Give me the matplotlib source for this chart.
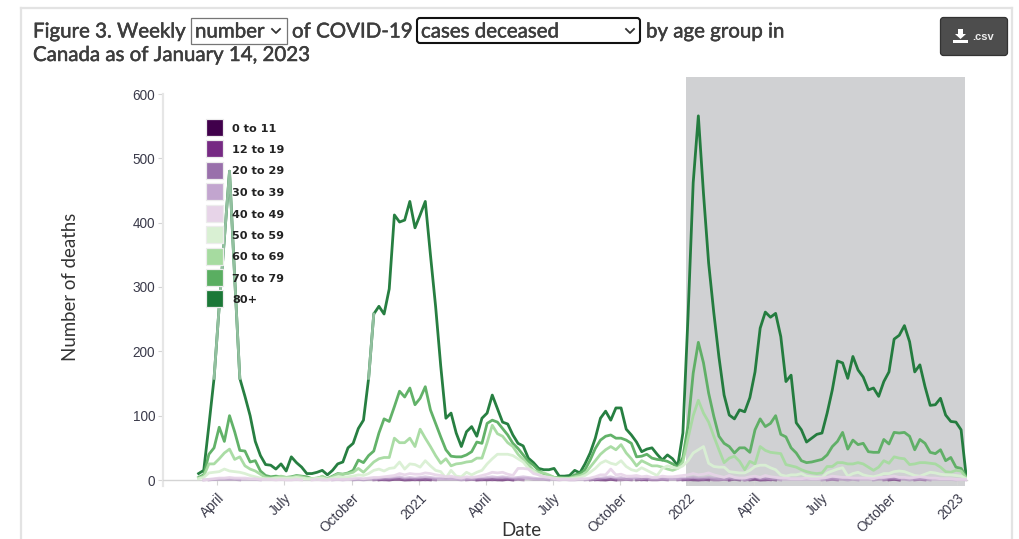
import matplotlib
matplotlib.use("Agg")
import matplotlib.pyplot as plt
import matplotlib.dates as mdates
import matplotlib.patheffects as pe
from matplotlib.patches import FancyBboxPatch, Rectangle, Polygon
import numpy as np
import pandas as pd

# WEEKLY DEATHS BY AGE GROUP
age_groups = ["0 to 11", "12 to 19", "20 to 29", "30 to 39", "40 to 49", "50 to 59", "60 to 69", "70 to 79", "80+"]
colors = ["#40004b", "#762a83", "#9970ab", "#c2a5cf", "#e7d4e8", "#d9f0d3", "#a6dba0", "#5aae61", "#1b7837"]

weeks = pd.date_range("2020-03-07", "2023-01-14", freq="7D")

d80 = [10, 15, 85, 158, 270, 375, 480, 315, 158, 130, 100, 60, 38, 24, 23, 17, 25, 14, 36, 27,
       20, 10, 10, 12, 15, 8, 15, 25, 28, 50, 57, 80, 93, 158, 258, 270, 258, 297, 412, 401,
       404, 433, 392, 412, 433, 350, 270, 177, 96, 104, 73, 52, 75, 83, 68, 96, 104, 132, 111, 90,
       87, 70, 57, 53, 34, 27, 18, 16, 16, 18, 6, 6, 7, 15, 11, 25, 42, 65, 96, 107,
       93, 112, 112, 79, 70, 59, 44, 48, 50, 40, 31, 39, 33, 22, 73, 255, 462, 566, 445, 337,
       260, 191, 132, 101, 95, 109, 106, 128, 168, 236, 261, 253, 259, 223, 153, 163, 89, 78, 59, 65,
       71, 73, 104, 140, 185, 182, 158, 192, 171, 160, 140, 143, 130, 153, 168, 219, 225, 240, 215, 168,
       179, 145, 116, 117, 127, 101, 91, 90, 78, 5]
d70 = [4, 8, 40, 50, 82, 60, 100, 75, 46, 45, 28, 30, 14, 7, 5, 6, 5, 4, 5, 7,
       6, 5, 2, 3, 5, 2, 6, 10, 9, 11, 15, 31, 27, 38, 45, 73, 95, 91, 114, 138,
       129, 143, 117, 127, 145, 109, 88, 67, 47, 37, 36, 36, 39, 44, 59, 57, 88, 93, 90, 80,
       70, 57, 49, 39, 29, 23, 15, 9, 7, 4, 4, 3, 3, 8, 10, 16, 31, 49, 62, 68,
       70, 65, 65, 62, 57, 36, 37, 40, 34, 32, 31, 29, 25, 20, 35, 85, 166, 214, 182, 135,
       99, 68, 57, 52, 42, 50, 50, 43, 78, 95, 83, 88, 100, 71, 67, 50, 42, 30, 27, 28,
       30, 32, 39, 52, 60, 74, 48, 62, 55, 57, 44, 43, 43, 63, 56, 74, 73, 74, 68, 47,
       63, 57, 43, 41, 47, 30, 35, 20, 18, 5]
d60 = [3, 6, 25, 25, 33, 42, 48, 32, 36, 22, 17, 14, 9, 4, 3, 4, 6, 4, 4, 6,
       5, 3, 2, 2, 6, 2, 5, 9, 9, 10, 12, 18, 12, 20, 28, 33, 35, 35, 65, 58,
       58, 65, 52, 79, 65, 52, 38, 26, 33, 22, 25, 26, 28, 29, 34, 34, 58, 85, 72, 68,
       58, 52, 40, 32, 24, 15, 12, 11, 8, 4, 3, 3, 3, 5, 7, 10, 20, 30, 40, 47,
       52, 47, 55, 42, 33, 22, 30, 26, 22, 22, 20, 17, 15, 18, 28, 65, 100, 124, 104, 90,
       68, 47, 27, 34, 37, 29, 16, 29, 25, 52, 46, 43, 42, 41, 24, 22, 20, 16, 13, 11,
       10, 11, 21, 21, 27, 27, 25, 25, 27, 25, 20, 15, 20, 30, 26, 36, 34, 33, 24, 25,
       27, 27, 26, 25, 20, 13, 12, 15, 14, 3]
d50 = [2, 4, 11, 12, 13, 17, 14, 13, 12, 10, 7, 5, 3, 2, 2, 3, 3, 3, 3, 4,
       3, 2, 2, 3, 3, 1, 3, 5, 4, 5, 6, 8, 7, 10, 15, 17, 14, 18, 19, 28,
       17, 25, 24, 20, 30, 22, 15, 13, 3, 15, 6, 5, 12, 8, 12, 15, 25, 33, 40, 40,
       40, 38, 33, 28, 18, 14, 8, 6, 4, 3, 2, 2, 2, 3, 4, 7, 12, 18, 26, 30,
       26, 24, 30, 21, 16, 14, 19, 15, 11, 7, 18, 22, 20, 18, 22, 30, 42, 47, 52, 26,
       21, 20, 20, 13, 12, 11, 11, 15, 21, 23, 23, 19, 16, 8, 6, 8, 8, 10, 6, 5,
       4, 4, 11, 14, 17, 19, 6, 10, 12, 8, 6, 5, 7, 10, 10, 13, 14, 13, 10, 7,
       6, 9, 12, 11, 9, 8, 8, 7, 6, 2]
d40 = [0, 0, 1, 2, 3, 3, 4, 3, 3, 3, 2, 2, 1, 1, 1, 0, 1, 0, 0, 1,
       0, 0, 0, 1, 0, 0, 1, 1, 1, 1, 2, 3, 2, 3, 4, 4, 5, 6, 7, 10,
       8, 10, 9, 9, 11, 10, 8, 7, 5, 6, 4, 3, 5, 4, 5, 7, 9, 12, 11, 12,
       9, 7, 18, 18, 17, 10, 8, 5, 4, 2, 1, 1, 1, 1, 2, 2, 3, 5, 8, 8,
       17, 8, 9, 6, 6, 7, 5, 6, 4, 4, 6, 5, 5, 6, 7, 8, 10, 8, 9, 11,
       8, 6, 4, 7, 4, 3, 3, 5, 6, 4, 7, 5, 4, 3, 3, 2, 2, 2, 3, 2,
       2, 3, 4, 6, 5, 4, 4, 3, 3, 3, 3, 2, 4, 4, 5, 6, 4, 4, 3, 4,
       5, 4, 3, 3, 2, 2, 2, 1, 1, 1]
d30 = [0, 0, 1, 1, 2, 2, 2, 2, 1, 1, 1, 1, 0, 0, 0, 0, 0, 0, 0, 0,
       0, 0, 0, 0, 0, 0, 0, 1, 0, 1, 1, 1, 1, 2, 2, 2, 3, 3, 4, 5,
       3, 4, 3, 4, 5, 4, 3, 3, 2, 3, 2, 1, 2, 2, 3, 3, 4, 5, 4, 5,
       4, 3, 4, 5, 4, 3, 2, 2, 1, 1, 0, 1, 0, 0, 1, 1, 1, 2, 3, 4,
       5, 3, 4, 2, 3, 3, 2, 3, 2, 2, 3, 2, 2, 2, 3, 3, 4, 3, 3, 4,
       3, 2, 2, 3, 2, 2, 1, 2, 5, 2, 3, 2, 2, 1, 1, 1, 1, 1, 1, 1,
       1, 1, 2, 3, 2, 2, 1, 2, 1, 1, 1, 1, 2, 2, 3, 3, 2, 2, 1, 2,
       2, 2, 1, 1, 1, 1, 1, 0, 1, 0]
d20 = [0, 0, 0, 1, 1, 1, 1, 1, 0, 0, 0, 0, 0, 0, 0, 0, 0, 0, 0, 0,
       0, 0, 0, 0, 0, 0, 0, 0, 0, 0, 0, 1, 0, 1, 1, 1, 1, 1, 2, 3,
       1, 2, 1, 2, 2, 2, 1, 1, 1, 1, 1, 0, 1, 1, 1, 1, 2, 2, 2, 3,
       2, 1, 2, 2, 2, 1, 1, 1, 0, 0, 0, 0, 0, 0, 0, 0, 1, 1, 1, 2,
       2, 1, 2, 1, 1, 1, 1, 1, 1, 1, 1, 1, 1, 1, 1, 1, 2, 1, 1, 2,
       1, 1, 1, 1, 1, 1, 0, 1, 3, 1, 1, 1, 1, 0, 0, 0, 0, 0, 0, 0,
       0, 0, 1, 1, 1, 1, 0, 1, 0, 0, 0, 0, 1, 1, 1, 2, 1, 1, 0, 1,
       1, 1, 0, 0, 0, 0, 0, 0, 0, 0]
d12 = [0, 0, 0, 0, 0, 0, 0, 0, 0, 0, 0, 0, 0, 0, 0, 0, 0, 0, 0, 0,
       0, 0, 0, 0, 0, 0, 0, 0, 0, 0, 0, 0, 0, 0, 0, 1, 0, 0, 1, 1,
       0, 1, 0, 1, 0, 1, 0, 0, 0, 0, 0, 0, 0, 1, 0, 0, 1, 0, 1, 0,
       1, 0, 1, 0, 0, 0, 0, 0, 0, 0, 0, 0, 0, 0, 0, 0, 0, 0, 1, 0,
       1, 0, 0, 1, 0, 0, 0, 1, 0, 0, 1, 0, 0, 0, 1, 0, 1, 0, 0, 1,
       0, 0, 1, 0, 0, 0, 0, 1, 1, 0, 1, 0, 0, 0, 0, 0, 0, 0, 0, 0,
       0, 0, 0, 1, 0, 0, 0, 0, 0, 0, 0, 0, 0, 0, 1, 1, 0, 0, 0, 0,
       1, 0, 0, 0, 0, 0, 0, 0, 0, 0]
d0 = [0, 0, 0, 0, 0, 0, 0, 0, 0, 0, 0, 0, 0, 0, 0, 0, 0, 0, 0, 0,
      0, 0, 0, 0, 0, 0, 0, 0, 0, 0, 0, 0, 0, 0, 0, 0, 1, 0, 1, 1,
      0, 0, 1, 0, 1, 0, 0, 0, 0, 0, 0, 0, 0, 0, 0, 1, 0, 1, 0, 0,
      1, 0, 0, 0, 0, 0, 0, 0, 0, 0, 0, 0, 0, 0, 0, 0, 0, 1, 0, 0,
      1, 0, 0, 0, 0, 0, 1, 0, 0, 0, 0, 0, 0, 0, 0, 1, 0, 0, 1, 0,
      0, 0, 0, 0, 1, 0, 0, 0, 1, 0, 0, 1, 0, 0, 0, 0, 0, 0, 0, 0,
      0, 0, 0, 0, 0, 0, 0, 0, 0, 0, 0, 0, 0, 0, 0, 1, 0, 0, 0, 0,
      0, 0, 0, 0, 0, 0, 0, 0, 0, 0]
series = [d0, d12, d20, d30, d40, d50, d60, d70, d80]

# parts of the 80+ line that look washed out in the picture (week numbers)
faded = [(3, 8), (33, 34)]

tick_dates = ["2020-04-01", "2020-07-01", "2020-10-01", "2021-01-01", "2021-04-01", "2021-07-01",
              "2021-10-01", "2022-01-01", "2022-04-01", "2022-07-01", "2022-10-01", "2023-01-01"]
tick_labels = ["April", "July", "October", "2021", "April", "July",
               "October", "2022", "April", "July", "October", "2023"]
y_ticks = [0, 100, 200, 300, 400, 500, 600]

W, H = 1020, 539
plt.rcParams['font.family'] = ['Liberation Sans', 'DejaVu Sans']
fig = plt.figure(figsize=(W / 100, H / 100), dpi=100)

# AXES: pixel box 163..967 across, 77..486 down
ax = fig.add_axes([163 / W, 1 - 486 / H, (967 - 163) / W, (486 - 77) / H])
ax.set_facecolor("none")
px_day = 0.736
x0 = pd.Timestamp("2020-04-01")
ax.set_xlim(mdates.date2num(x0 - pd.Timedelta(days=(217 - 163) / px_day)),
            mdates.date2num(x0 + pd.Timedelta(days=(967 - 217) / px_day)))
px_val = 386 / 600
ax.set_ylim(-6 / px_val, 403 / px_val)

ax.axvspan(pd.Timestamp("2021-12-29"), pd.Timestamp("2023-01-12"), color="#d0d1d3", lw=0, zorder=0)

# greens: 80+ at the bottom, palest on top
for i in range(8, 4, -1):
    ax.plot(weeks, series[i], color=colors[i], lw=2.0, alpha=0.95, zorder=2 + 8 - i)
for s, e in faded:
    ax.plot(weeks[s:e + 1], d80[s:e + 1], color="#92c09f", lw=2.0, zorder=2.5)

# purples: hazy band on the axis, flat zero runs leave no line
purple_alpha = [0.45, 0.4, 0.45, 0.6, 0.9]
for i in range(5):
    v = np.array(series[i], dtype=float)
    prev_z = np.r_[True, v[:-1] == 0]
    next_z = np.r_[v[1:] == 0, True]
    v[(v == 0) & prev_z & next_z] = np.nan
    ax.plot(weeks, v, color=colors[i], lw=2.0, alpha=purple_alpha[i], zorder=7 + i)

for s in ["top", "right"]:
    ax.spines[s].set_visible(False)
ax.spines["bottom"].set_position(("data", 0))
ax.spines["bottom"].set_color("#d4d4d4")
ax.spines["bottom"].set_linewidth(1.0)
ax.spines["left"].set_color("#e6e6e6")
ax.spines["left"].set_linewidth(1.6)
ax.spines["left"].set_bounds(-6 / px_val, 600)
ax.set_yticks(y_ticks)
ax.set_xticks([pd.Timestamp(d) for d in tick_dates])
ax.set_xticklabels(tick_labels, rotation=45, ha="right", rotation_mode="anchor", fontsize=9.8, color="#3a3a4a")
ax.tick_params(axis="x", length=3.6, width=0.8, color="#d4d4d4", pad=4)
ax.tick_params(axis="y", length=3.6, width=0.8, color="#d4d4d4", pad=2, labelsize=9.8, labelcolor="#3a3a4a")

# OVERLAY in picture pixels for the page furniture
ov = fig.add_axes([0, 0, 1, 1], zorder=5)
ov.set_xlim(0, W)
ov.set_ylim(H, 0)
ov.axis("off")
ov.patch.set_alpha(0)

ov.plot([21, 21], [H, 8], color="#e3e3e3", lw=1.6)
ov.plot([21, 1012], [8, 8], color="#e3e3e3", lw=1.6)
ov.plot([1012, 1012], [8, H], color="#e3e3e3", lw=1.6)

title_c = "#3d3d3d"
tf = "Lato"
heavy = [pe.withStroke(linewidth=0.35, foreground=title_c)]


def title_text(x, y, s):
    ov.text(x, y, s, fontsize=14.75, family=tf, color=title_c, va="center", path_effects=heavy)


title_text(33, 32, "Figure 3. Weekly")
title_text(292, 32, "of COVID-19")
title_text(646, 32, "by age group in")
title_text(33, 55.5, "Canada as of January 14, 2023")

# the two drop downs
ov.add_patch(Rectangle((191.5, 17.5), 96, 26.5, fc="white", ec="#767676", lw=0.9))
title_text(195, 32, "number")
ov.add_patch(FancyBboxPatch((417, 18), 223, 25, boxstyle="round,pad=0,rounding_size=3", fc="white", ec="#111111", lw=1.5))
title_text(421, 32, "cases deceased")
for cx in [276, 630]:
    ov.plot([cx - 4, cx, cx + 4], [29, 33, 29], color="#333333", lw=1.3)

# csv button
ov.add_patch(FancyBboxPatch((940.5, 17.5), 67, 38, boxstyle="round,pad=0,rounding_size=3", fc="#4d4d4d", ec="#333333", lw=0.9))
ov.add_patch(Polygon([(958, 29), (963, 29), (963, 34), (966, 34), (960.5, 39), (955, 34), (958, 34)], fc="white", ec="none"))
ov.add_patch(Rectangle((953, 39.5), 15, 3.5, fc="white", ec="none"))
ov.text(972, 37, ".csv", fontsize=8.0, color="#eeeeee", va="center", fontweight="bold")

# legend
row_y = [127, 148.5, 170, 191.5, 213, 234.5, 256, 277.5, 298.5]
for i in range(9):
    ov.add_patch(Rectangle((206.5, row_y[i] - 8.5), 17, 17, fc=colors[i], ec="#ececec", lw=0.9))
    ov.text(232, row_y[i] + 1.5, age_groups[i], fontsize=8.1, fontweight="bold", family="DejaVu Sans", color="#222222", va="center")

ov.text(71, 287, "Number of deaths", rotation=90, fontsize=13.4, family=tf, color="#333333", ha="center", va="center")
ov.text(521, 530, "Date", fontsize=13.4, family=tf, color="#333333", ha="center", va="center")

fig.savefig("out.png", dpi=100)
